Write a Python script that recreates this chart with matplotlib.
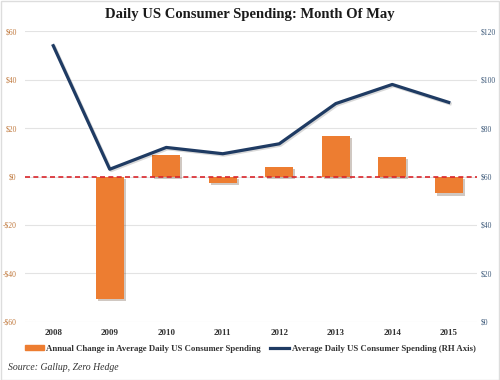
import matplotlib
matplotlib.use("Agg")
import matplotlib.pyplot as plt
from matplotlib.lines import Line2D
from matplotlib.patches import Patch
import matplotlib.patheffects as pe

years = ["2008", "2009", "2010", "2011", "2012", "2013", "2014", "2015"]
annual_change = [None, -50.7, 8.9, -2.8, 4.1, 16.8, 8.0, -7.0]
avg_spending = [114, 63, 72, 69.4, 73.5, 90.1, 98, 90.6]
left_ticks = [-60, -40, -20, 0, 20, 40, 60]
left_labels = ["-$60", "-$40", "-$20", "$0", "$20", "$40", "$60"]
right_ticks = [0, 20, 40, 60, 80, 100, 120]
right_labels = ["$0", "$20", "$40", "$60", "$80", "$100", "$120"]

orange = "#ED7D31"
navy = "#1F3B63"
serif = ["Liberation Serif", "DejaVu Serif"]

fig = plt.figure(figsize=(5, 3.8), dpi=100)
ax = fig.add_axes([0.05, 0.153, 0.904, 0.765])
ax2 = ax.twinx()

x = list(range(len(years)))
bx = [i for i, v in zip(x, annual_change) if v is not None]
bv = [v for v in annual_change if v is not None]
ax.bar(bx, bv, width=0.5, color=orange, zorder=3,
       path_effects=[pe.SimplePatchShadow(offset=(1.5, -1.5), alpha=0.25), pe.Normal()])
ax.axhline(0, color="#D9262B", lw=1.2, ls=(0, (3, 2)), zorder=4)

ax2.plot(x, avg_spending, color=navy, lw=2.3, zorder=5,
         path_effects=[pe.SimpleLineShadow(offset=(1, -1), alpha=0.15), pe.Normal()])

ax.set_xlim(-0.5, len(years) - 0.5)
ax.set_ylim(-60, 60)
ax2.set_ylim(0, 120)
ax.set_yticks(left_ticks)
ax.set_yticklabels(left_labels, fontfamily=serif, fontsize=5.5, color="#C0783C")
ax2.set_yticks(right_ticks)
ax2.set_yticklabels(right_labels, fontfamily=serif, fontsize=5.5, color="#3E5A7A")
ax.set_xticks(x)
ax.set_xticklabels(years, fontfamily=serif, fontsize=6.5, fontweight="bold", color="#333333")
ax.grid(axis="y", color="#E3E3E3", lw=0.8, zorder=0)
ax.set_axisbelow(True)
for a in (ax, ax2):
    for s in a.spines.values():
        s.set_visible(False)
    a.tick_params(length=0)
ax.tick_params(axis="y", pad=6)
ax2.tick_params(axis="y", pad=3)
ax.tick_params(axis="x", pad=5)

fig.text(0.5, 0.962, "Daily US Consumer Spending: Month Of May", ha="center", va="center",
         fontfamily=serif, fontsize=10.5, fontweight="bold", color="#1a1a1a")

handles = [Patch(color=orange, label="Annual Change in Average Daily US Consumer Spending"),
           Line2D([0], [0], color=navy, lw=2.3, label="Average Daily US Consumer Spending (RH Axis)")]
leg = fig.legend(handles=handles, loc="center", bbox_to_anchor=(0.5, 0.082), ncol=2, frameon=False,
                 prop={"family": serif, "size": 6.3, "weight": "bold"}, handlelength=2.2,
                 handleheight=0.5, columnspacing=1.0, handletextpad=0.3)
for t in leg.get_texts():
    t.set_color("#333333")

fig.text(0.015, 0.033, "Source: Gallup, Zero Hedge", ha="left", va="center",
         fontfamily=serif, fontsize=7, fontstyle="italic", color="#333333")

fig.patches.append(plt.Rectangle((0.001, 0.001), 0.997, 0.997, transform=fig.transFigure,
                                 fill=False, edgecolor="#DDDDDD", lw=1))

fig.savefig("out.png", dpi=100, facecolor="white")
